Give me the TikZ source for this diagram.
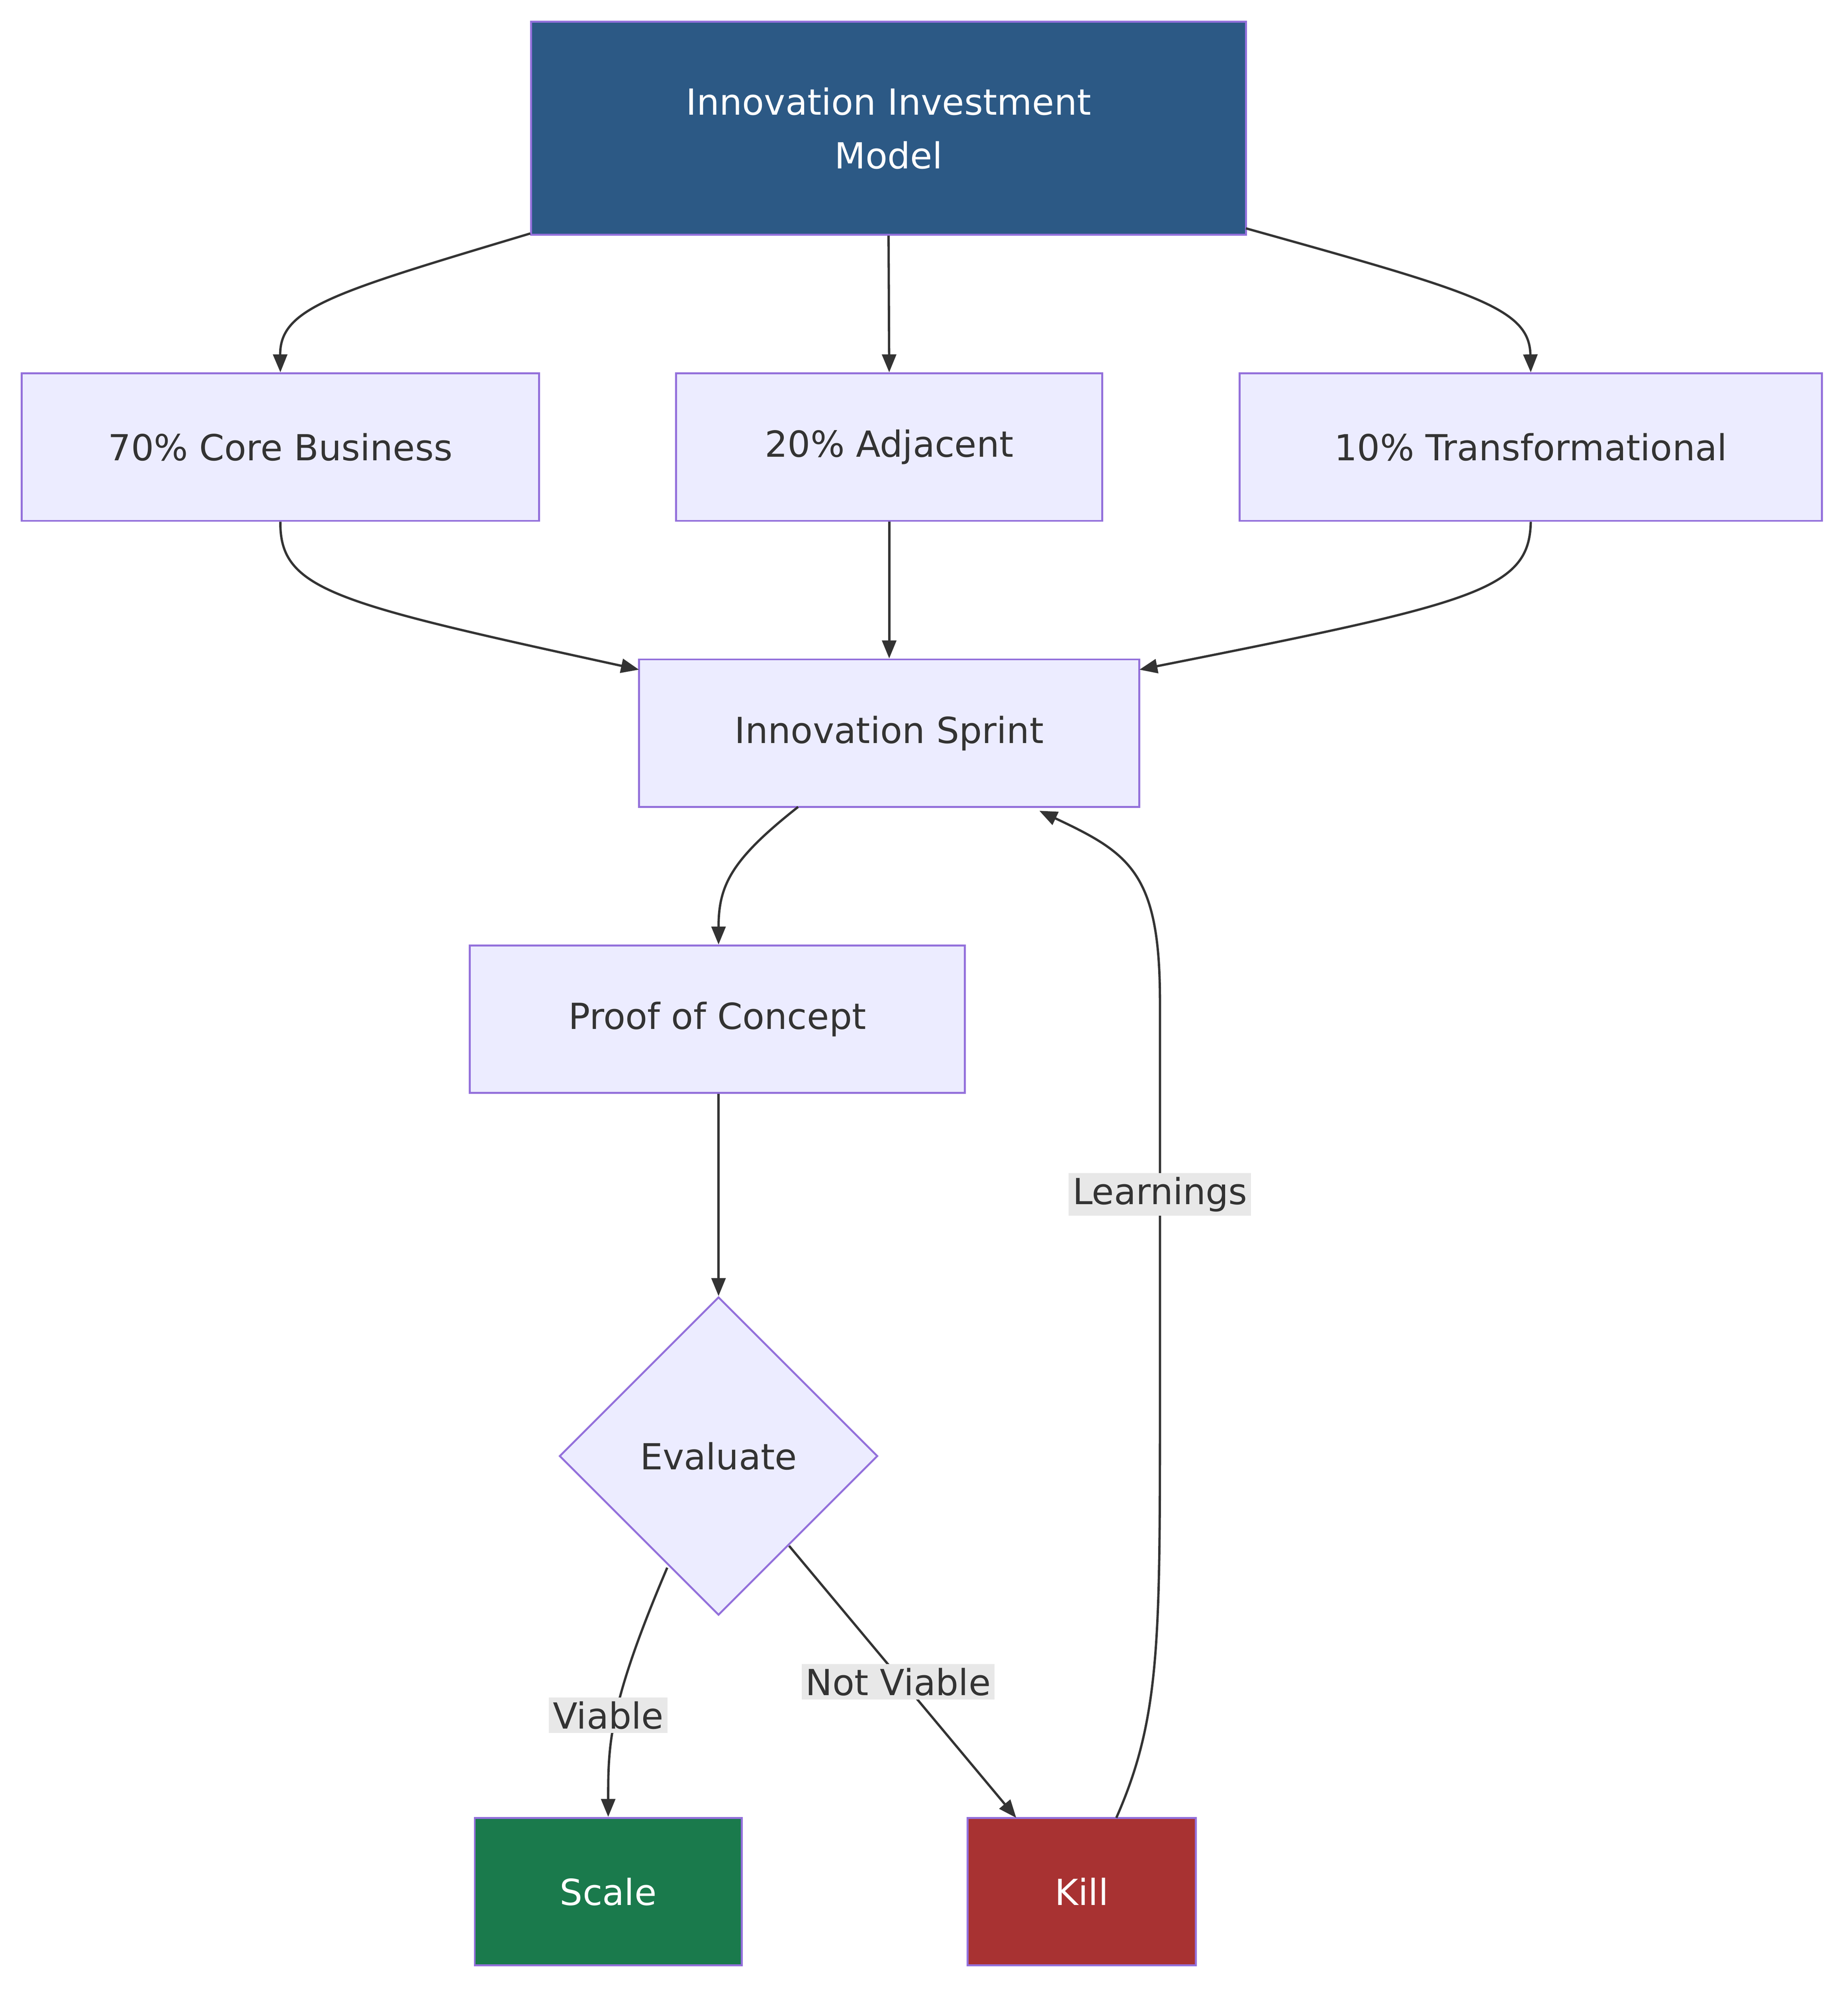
\documentclass[tikz,border=0pt]{standalone}
\usepackage{fontspec}
\setmainfont{DejaVu Sans}
\usetikzlibrary{shapes.geometric,arrows.meta}
\definecolor{bd}{HTML}{9370DB}
\definecolor{lf}{HTML}{ECECFF}
\definecolor{tc}{HTML}{333333}
\definecolor{topc}{HTML}{2C5985}
\definecolor{sc}{HTML}{1A7A4C}
\definecolor{kc}{HTML}{A83232}
\definecolor{lb}{HTML}{E8E8E8}
\begin{document}
\begin{tikzpicture}[x=1pt,y=-1pt,
 box/.style={draw=bd,line width=1.5pt,fill=lf,text=tc,font=\fontsize{28}{42}\selectfont,inner sep=0},
 ar/.style={draw=tc,line width=1.8pt,-{Triangle[length=14pt,width=11pt]}},
 lab/.style={fill=lb,text=tc,font=\fontsize{28}{34}\selectfont,inner sep=3pt}]
\useasboundingbox (0,0) rectangle (1440,1552);
\node[box,fill=topc,text=white,minimum width=557pt,minimum height=166pt,align=center] (top) at (692.5,100) {Innovation Investment\\Model};
\node[box,minimum width=403pt,minimum height=115pt] (core) at (218.5,348.5) {70\% Core Business};
\node[box,minimum width=332pt,minimum height=115pt] (adj) at (693,348.5) {20\% Adjacent};
\node[box,minimum width=454pt,minimum height=115pt] (tr) at (1193,348.5) {10\% Transformational};
\node[box,minimum width=390pt,minimum height=115pt] (sp) at (693,571.5) {Innovation Sprint};
\node[box,minimum width=386pt,minimum height=115pt] (poc) at (559,794.5) {Proof of Concept};
\node[box,diamond,minimum width=248pt,minimum height=248pt] (ev) at (560,1135) {Evaluate};
\node[box,fill=sc,text=white,minimum width=208pt,minimum height=115pt] (sc) at (474,1474.5) {Scale};
\node[box,fill=kc,text=white,minimum width=178pt,minimum height=115pt] (k) at (843,1474.5) {Kill};
\draw[ar] (top.south west|-0,182) .. controls (260,228) and (218,240) .. (core.north);
\draw[ar] (top.south) -- (adj.north);
\draw[ar] (971,178) .. controls (1150,228) and (1192,240) .. (tr.north);
\draw[ar] (core.south) .. controls (218,460) and (260,470) .. (498,522);
\draw[ar] (adj.south) -- (sp.north);
\draw[ar] (tr.south) .. controls (1192,460) and (1150,470) .. (888,522);
\draw[ar] (622,629) .. controls (570,670) and (560,690) .. (poc.north -| 560,0);
\draw[ar] (poc.south -| 560,0) -- (ev.north);
\draw[ar] (520,1222) .. controls (474,1330) and (474,1360) .. (sc.north);
\draw[ar] (615,1205) -- (792,1417);
\draw[ar] (870,1417) .. controls (904,1340) and (904,1280) .. (904,1100) -- (904,780) .. controls (904,680) and (880,665) .. (810,632);
\node[lab] (l1) at (474,1337) {Viable};
\node[lab] (l2) at (700,1311) {Not Viable};
\node[lab] (l3) at (904,931) {Learnings};
\end{tikzpicture}
\end{document}
